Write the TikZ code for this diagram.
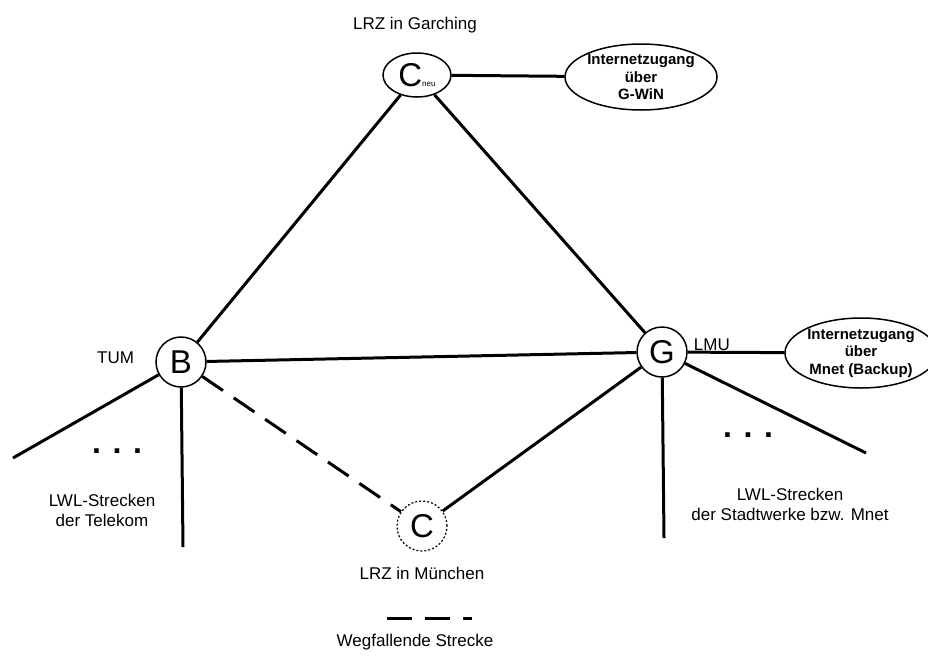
\documentclass[tikz,border=0pt]{standalone}
\usepackage{fontspec}
\setmainfont{Liberation Sans}
\usetikzlibrary{positioning,shapes.geometric}

\tikzset{
  site/.style={circle,draw,line width=1.5pt,minimum size=50pt,inner sep=0pt,
    font=\fontsize{33}{33}\selectfont},
  uplink/.style={ellipse,draw,line width=1.5pt,inner sep=0pt,align=center,
    font=\fontsize{15}{17.5}\selectfont\bfseries},
  txt/.style={align=center,inner sep=0pt,font=\fontsize{17}{20}\selectfont},
  more/.style={inner sep=0pt,font=\fontsize{32}{32}\selectfont\bfseries},
  fibre/.style={line width=3pt},
  gone/.style={fibre,dash pattern=on 25pt off 13pt},
}

\begin{document}
\begin{tikzpicture}[x=1pt,y=-1pt]
  \useasboundingbox (0,0) rectangle (928,664);

  % sites
  \node[site,ellipse,minimum width=68pt,minimum height=44pt] (Cn) at (417,75) {C{\fontsize{8}{8}\selectfont neu}};
  \node[site] (B) at (181,362) {B};
  \node[site] (G) at (662,352) {G};
  \node[site,line width=1.2pt,dash pattern=on 2pt off 2pt] (C) at (422,526) {C};

  % internet uplinks
  \node[uplink,minimum width=152pt,minimum height=66pt] (win) at (641,77) {Internetzugang\\über\\G-WiN};
  \node[uplink,minimum width=136pt,minimum height=70pt] (mnet) at (861,353) {Internetzugang\\über\\Mnet (Backup)};

  % labels
  \node[txt] (garching) at (415,25) {LRZ in Garching};
  \node[txt] (tum) [left=21pt of B,yshift=4pt] {TUM};
  \node[txt] (lmu) [right=6pt of G,yshift=7pt] {LMU};
  \node[txt] (muenchen) at (422,573) {LRZ in München};
  \node[txt] (telekom) at (102,510) {LWL-Strecken\\der Telekom};
  \node[txt] (swm) at (790,504) {LWL-Strecken\\der Stadtwerke bzw. Mnet};
  \node[more] (dotsB) at (117,451) {.\hspace{11.6pt}.\hspace{11.6pt}.};
  \node[more] (dotsG) at (748,435) {.\hspace{11.6pt}.\hspace{11.6pt}.};

  % loose fibre ends
  \coordinate (b1) at (13,458);
  \coordinate (b2) at (183,547);
  \coordinate (g1) at (664,538);
  \coordinate (g2) at (866,453);

  \path[fibre] (Cn) edge (B) edge (G) edge (win);
  \path[fibre] (B) edge (G) edge (b1) edge (b2);
  \path[fibre] (G) edge (C) edge (mnet) edge (g1) edge (g2);
  \path[gone] (B) edge (C);

  % legend
  \coordinate (l1) at (387,618);
  \coordinate (l2) at (472,618);
  \path[gone] (l1) edge (l2);
  \node[txt] (legend) at (415,642) {Wegfallende Strecke};

\end{tikzpicture}
\end{document}
